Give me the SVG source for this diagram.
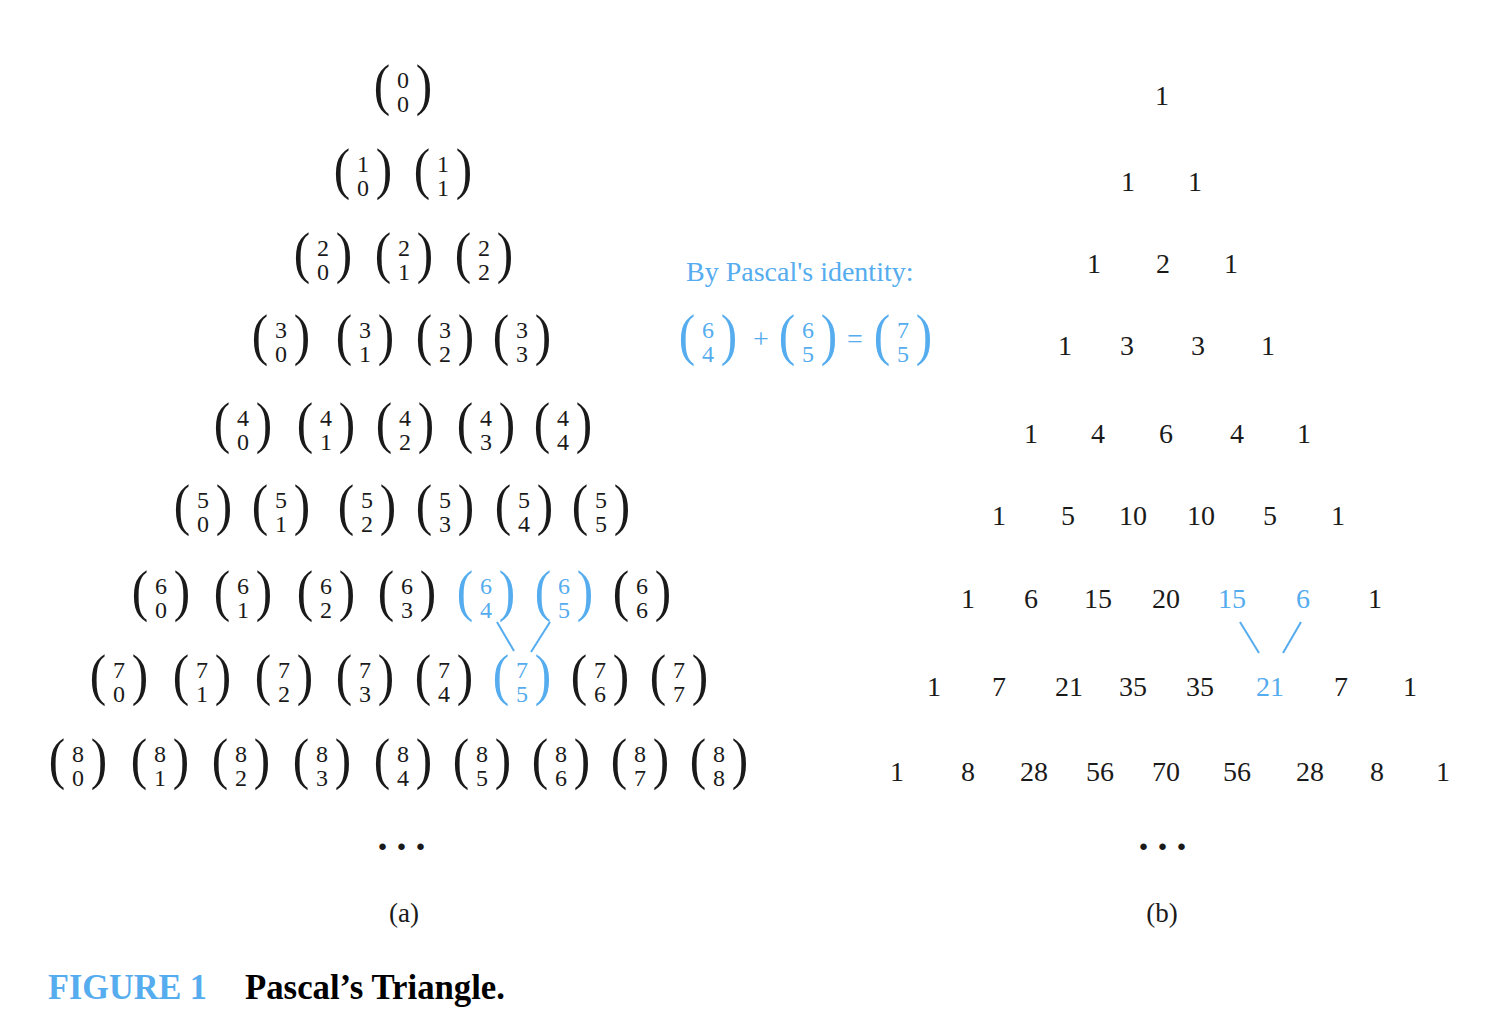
<svg xmlns="http://www.w3.org/2000/svg" width="1498" height="1018" viewBox="0 0 1498 1018">
<style>
text{font-family:"Liberation Serif","Times New Roman",serif;fill:#1a1a1a}
.p{font-size:58px;text-anchor:middle}
.l{transform:translate(-21px,14px) scale(0.85,1)}
.r{transform:translate(21px,14px) scale(0.85,1)}
.d{font-size:24px;text-anchor:middle}
.n{font-size:28px;text-anchor:middle}
.hl text,text.hl{fill:#55acee}
.lbl{font-size:27px;text-anchor:middle}
.dots{font-size:40px;font-weight:bold;text-anchor:middle;letter-spacing:9px}
.cap{font-size:36px;font-weight:bold}
.conn line{stroke:#55acee;stroke-width:2}
</style>
<rect width="1498" height="1018" fill="#fff"/>
<g id="panel-a">
<g id="a-0-0" transform="translate(403,90)"><text class="p l">(</text><text class="d" y="-2">0</text><text class="d" y="22">0</text><text class="p r">)</text></g>
<g id="a-1-0" transform="translate(363,174)"><text class="p l">(</text><text class="d" y="-2">1</text><text class="d" y="22">0</text><text class="p r">)</text></g>
<g id="a-1-1" transform="translate(443,174)"><text class="p l">(</text><text class="d" y="-2">1</text><text class="d" y="22">1</text><text class="p r">)</text></g>
<g id="a-2-0" transform="translate(323,258)"><text class="p l">(</text><text class="d" y="-2">2</text><text class="d" y="22">0</text><text class="p r">)</text></g>
<g id="a-2-1" transform="translate(404,258)"><text class="p l">(</text><text class="d" y="-2">2</text><text class="d" y="22">1</text><text class="p r">)</text></g>
<g id="a-2-2" transform="translate(484,258)"><text class="p l">(</text><text class="d" y="-2">2</text><text class="d" y="22">2</text><text class="p r">)</text></g>
<g id="a-3-0" transform="translate(281,340)"><text class="p l">(</text><text class="d" y="-2">3</text><text class="d" y="22">0</text><text class="p r">)</text></g>
<g id="a-3-1" transform="translate(365,340)"><text class="p l">(</text><text class="d" y="-2">3</text><text class="d" y="22">1</text><text class="p r">)</text></g>
<g id="a-3-2" transform="translate(445,340)"><text class="p l">(</text><text class="d" y="-2">3</text><text class="d" y="22">2</text><text class="p r">)</text></g>
<g id="a-3-3" transform="translate(522,340)"><text class="p l">(</text><text class="d" y="-2">3</text><text class="d" y="22">3</text><text class="p r">)</text></g>
<g id="a-4-0" transform="translate(243,428)"><text class="p l">(</text><text class="d" y="-2">4</text><text class="d" y="22">0</text><text class="p r">)</text></g>
<g id="a-4-1" transform="translate(326,428)"><text class="p l">(</text><text class="d" y="-2">4</text><text class="d" y="22">1</text><text class="p r">)</text></g>
<g id="a-4-2" transform="translate(405,428)"><text class="p l">(</text><text class="d" y="-2">4</text><text class="d" y="22">2</text><text class="p r">)</text></g>
<g id="a-4-3" transform="translate(486,428)"><text class="p l">(</text><text class="d" y="-2">4</text><text class="d" y="22">3</text><text class="p r">)</text></g>
<g id="a-4-4" transform="translate(563,428)"><text class="p l">(</text><text class="d" y="-2">4</text><text class="d" y="22">4</text><text class="p r">)</text></g>
<g id="a-5-0" transform="translate(203,510)"><text class="p l">(</text><text class="d" y="-2">5</text><text class="d" y="22">0</text><text class="p r">)</text></g>
<g id="a-5-1" transform="translate(281,510)"><text class="p l">(</text><text class="d" y="-2">5</text><text class="d" y="22">1</text><text class="p r">)</text></g>
<g id="a-5-2" transform="translate(367,510)"><text class="p l">(</text><text class="d" y="-2">5</text><text class="d" y="22">2</text><text class="p r">)</text></g>
<g id="a-5-3" transform="translate(445,510)"><text class="p l">(</text><text class="d" y="-2">5</text><text class="d" y="22">3</text><text class="p r">)</text></g>
<g id="a-5-4" transform="translate(524,510)"><text class="p l">(</text><text class="d" y="-2">5</text><text class="d" y="22">4</text><text class="p r">)</text></g>
<g id="a-5-5" transform="translate(601,510)"><text class="p l">(</text><text class="d" y="-2">5</text><text class="d" y="22">5</text><text class="p r">)</text></g>
<g id="a-6-0" transform="translate(161,596)"><text class="p l">(</text><text class="d" y="-2">6</text><text class="d" y="22">0</text><text class="p r">)</text></g>
<g id="a-6-1" transform="translate(243,596)"><text class="p l">(</text><text class="d" y="-2">6</text><text class="d" y="22">1</text><text class="p r">)</text></g>
<g id="a-6-2" transform="translate(326,596)"><text class="p l">(</text><text class="d" y="-2">6</text><text class="d" y="22">2</text><text class="p r">)</text></g>
<g id="a-6-3" transform="translate(407,596)"><text class="p l">(</text><text class="d" y="-2">6</text><text class="d" y="22">3</text><text class="p r">)</text></g>
<g id="a-6-4" class="hl" transform="translate(486,596)"><text class="p l">(</text><text class="d" y="-2">6</text><text class="d" y="22">4</text><text class="p r">)</text></g>
<g id="a-6-5" class="hl" transform="translate(564,596)"><text class="p l">(</text><text class="d" y="-2">6</text><text class="d" y="22">5</text><text class="p r">)</text></g>
<g id="a-6-6" transform="translate(642,596)"><text class="p l">(</text><text class="d" y="-2">6</text><text class="d" y="22">6</text><text class="p r">)</text></g>
<g id="a-7-0" transform="translate(119,680)"><text class="p l">(</text><text class="d" y="-2">7</text><text class="d" y="22">0</text><text class="p r">)</text></g>
<g id="a-7-1" transform="translate(202,680)"><text class="p l">(</text><text class="d" y="-2">7</text><text class="d" y="22">1</text><text class="p r">)</text></g>
<g id="a-7-2" transform="translate(284,680)"><text class="p l">(</text><text class="d" y="-2">7</text><text class="d" y="22">2</text><text class="p r">)</text></g>
<g id="a-7-3" transform="translate(365,680)"><text class="p l">(</text><text class="d" y="-2">7</text><text class="d" y="22">3</text><text class="p r">)</text></g>
<g id="a-7-4" transform="translate(444,680)"><text class="p l">(</text><text class="d" y="-2">7</text><text class="d" y="22">4</text><text class="p r">)</text></g>
<g id="a-7-5" class="hl" transform="translate(522,680)"><text class="p l">(</text><text class="d" y="-2">7</text><text class="d" y="22">5</text><text class="p r">)</text></g>
<g id="a-7-6" transform="translate(600,680)"><text class="p l">(</text><text class="d" y="-2">7</text><text class="d" y="22">6</text><text class="p r">)</text></g>
<g id="a-7-7" transform="translate(679,680)"><text class="p l">(</text><text class="d" y="-2">7</text><text class="d" y="22">7</text><text class="p r">)</text></g>
<g id="a-8-0" transform="translate(78,764)"><text class="p l">(</text><text class="d" y="-2">8</text><text class="d" y="22">0</text><text class="p r">)</text></g>
<g id="a-8-1" transform="translate(160,764)"><text class="p l">(</text><text class="d" y="-2">8</text><text class="d" y="22">1</text><text class="p r">)</text></g>
<g id="a-8-2" transform="translate(241,764)"><text class="p l">(</text><text class="d" y="-2">8</text><text class="d" y="22">2</text><text class="p r">)</text></g>
<g id="a-8-3" transform="translate(322,764)"><text class="p l">(</text><text class="d" y="-2">8</text><text class="d" y="22">3</text><text class="p r">)</text></g>
<g id="a-8-4" transform="translate(403,764)"><text class="p l">(</text><text class="d" y="-2">8</text><text class="d" y="22">4</text><text class="p r">)</text></g>
<g id="a-8-5" transform="translate(482,764)"><text class="p l">(</text><text class="d" y="-2">8</text><text class="d" y="22">5</text><text class="p r">)</text></g>
<g id="a-8-6" transform="translate(561,764)"><text class="p l">(</text><text class="d" y="-2">8</text><text class="d" y="22">6</text><text class="p r">)</text></g>
<g id="a-8-7" transform="translate(640,764)"><text class="p l">(</text><text class="d" y="-2">8</text><text class="d" y="22">7</text><text class="p r">)</text></g>
<g id="a-8-8" transform="translate(719,764)"><text class="p l">(</text><text class="d" y="-2">8</text><text class="d" y="22">8</text><text class="p r">)</text></g>
<text id="a-dots" class="dots" x="406" y="850">...</text>
<text id="a-label" class="lbl" x="404" y="922">(a)</text>
</g>
<g id="identity" class="hl">
<text id="identity-title" x="686" y="281" style="font-size:28px">By Pascal's identity:</text>
<g id="id-6-4" transform="translate(708,340)"><text class="p l">(</text><text class="d" y="-2">6</text><text class="d" y="22">4</text><text class="p r">)</text></g>
<text id="id-plus" x="761" y="348" style="font-size:28px;text-anchor:middle">+</text>
<g id="id-6-5" transform="translate(808,340)"><text class="p l">(</text><text class="d" y="-2">6</text><text class="d" y="22">5</text><text class="p r">)</text></g>
<text id="id-eq" x="855" y="348" style="font-size:28px;text-anchor:middle">=</text>
<g id="id-7-5" transform="translate(903,340)"><text class="p l">(</text><text class="d" y="-2">7</text><text class="d" y="22">5</text><text class="p r">)</text></g>
</g>
<g id="panel-b">
<text id="b-0-0" class="n" x="1162" y="105">1</text>
<text id="b-1-0" class="n" x="1128" y="191">1</text><text id="b-1-1" class="n" x="1195" y="191">1</text>
<text id="b-2-0" class="n" x="1094" y="273">1</text><text id="b-2-1" class="n" x="1163" y="273">2</text><text id="b-2-2" class="n" x="1231" y="273">1</text>
<text id="b-3-0" class="n" x="1065" y="355">1</text><text id="b-3-1" class="n" x="1127" y="355">3</text><text id="b-3-2" class="n" x="1198" y="355">3</text><text id="b-3-3" class="n" x="1268" y="355">1</text>
<text id="b-4-0" class="n" x="1031" y="443">1</text><text id="b-4-1" class="n" x="1098" y="443">4</text><text id="b-4-2" class="n" x="1166" y="443">6</text><text id="b-4-3" class="n" x="1237" y="443">4</text><text id="b-4-4" class="n" x="1304" y="443">1</text>
<text id="b-5-0" class="n" x="999" y="525">1</text><text id="b-5-1" class="n" x="1068" y="525">5</text><text id="b-5-2" class="n" x="1133" y="525">10</text><text id="b-5-3" class="n" x="1201" y="525">10</text><text id="b-5-4" class="n" x="1270" y="525">5</text><text id="b-5-5" class="n" x="1338" y="525">1</text>
<text id="b-6-0" class="n" x="968" y="608">1</text><text id="b-6-1" class="n" x="1031" y="608">6</text><text id="b-6-2" class="n" x="1098" y="608">15</text><text id="b-6-3" class="n" x="1166" y="608">20</text><text id="b-6-4" class="n hl" x="1232" y="608">15</text><text id="b-6-5" class="n hl" x="1303" y="608">6</text><text id="b-6-6" class="n" x="1375" y="608">1</text>
<text id="b-7-0" class="n" x="934" y="696">1</text><text id="b-7-1" class="n" x="999" y="696">7</text><text id="b-7-2" class="n" x="1069" y="696">21</text><text id="b-7-3" class="n" x="1133" y="696">35</text><text id="b-7-4" class="n" x="1200" y="696">35</text><text id="b-7-5" class="n hl" x="1270" y="696">21</text><text id="b-7-6" class="n" x="1341" y="696">7</text><text id="b-7-7" class="n" x="1410" y="696">1</text>
<text id="b-8-0" class="n" x="897" y="781">1</text><text id="b-8-1" class="n" x="968" y="781">8</text><text id="b-8-2" class="n" x="1034" y="781">28</text><text id="b-8-3" class="n" x="1100" y="781">56</text><text id="b-8-4" class="n" x="1166" y="781">70</text><text id="b-8-5" class="n" x="1237" y="781">56</text><text id="b-8-6" class="n" x="1310" y="781">28</text><text id="b-8-7" class="n" x="1377" y="781">8</text><text id="b-8-8" class="n" x="1443" y="781">1</text>
<text id="b-dots" class="dots" x="1167" y="850">...</text>
<text id="b-label" class="lbl" x="1162" y="922">(b)</text>
</g>
<g id="connectors" class="conn">
<line x1="497" y1="622" x2="514" y2="651"/>
<line x1="550" y1="622" x2="531" y2="652"/>
<line x1="1240" y1="622" x2="1259" y2="653"/>
<line x1="1301" y1="622" x2="1283" y2="653"/>
</g>
<g id="caption">
<text class="cap hl" x="48" y="999" textLength="159" lengthAdjust="spacingAndGlyphs">FIGURE 1</text>
<text class="cap" x="245" y="999" textLength="260" lengthAdjust="spacingAndGlyphs" style="fill:#000">Pascal’s Triangle.</text>
</g>
</svg>
